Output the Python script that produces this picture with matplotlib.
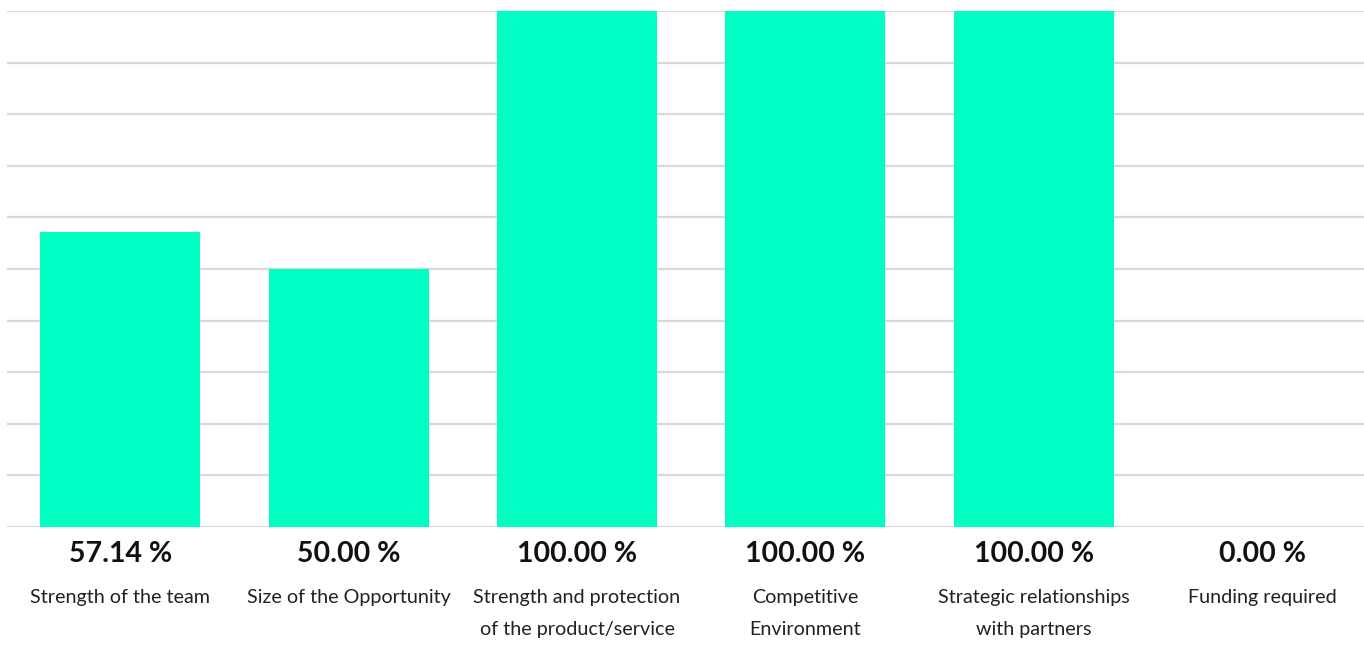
import matplotlib
matplotlib.use("Agg")
import matplotlib.pyplot as plt

categories = [
    "Strength of the team",
    "Size of the Opportunity",
    "Strength and protection\nof the product/service",
    "Competitive\nEnvironment",
    "Strategic relationships\nwith partners",
    "Funding required",
]
values = [57.14, 50.00, 100.00, 100.00, 100.00, 0.00]
value_labels = ["57.14 %", "50.00 %", "100.00 %", "100.00 %", "100.00 %", "0.00 %"]
grid_ticks = [0, 10, 20, 30, 40, 50, 60, 70, 80, 90, 100]

W, H = 1364, 661
fig = plt.figure(figsize=(W / 100, H / 100), dpi=100)
fig.patch.set_facecolor("white")

ax_left_px, ax_right_px = 7, 1364
ax_top_px, ax_bot_px = 11, 527
ax = fig.add_axes([ax_left_px / W, (H - ax_bot_px) / H,
                   (ax_right_px - ax_left_px) / W, (ax_bot_px - ax_top_px) / H])

step = 228.4
x0 = 6.0
xmin = -0.5 + (ax_left_px - x0) / step
xmax = -0.5 + (ax_right_px - x0) / step

x = list(range(len(categories)))
ax.bar(x, values, width=0.70, color="#00FFC3", zorder=2, linewidth=0)
for t in grid_ticks:
    ax.axhline(t, color="#d9d9d9", linewidth=1.6, zorder=1)

ax.set_xlim(xmin, xmax)
ax.set_ylim(0, 100)
ax.axis("off")

font = "Lato"
for i, (lab, vl) in enumerate(zip(categories, value_labels)):
    ax.annotate(vl, xy=(i, 0), xytext=(0, -27), textcoords="offset pixels",
                ha="center", va="center", fontsize=20.5, fontweight="bold",
                color="#111111", family=font, annotation_clip=False)
    for k, line in enumerate(lab.split("\n")):
        ax.annotate(line, xy=(i, 0), xytext=(0, -71 - 31.5 * k),
                    textcoords="offset pixels", ha="center", va="center",
                    fontsize=14.2, color="#222222", family=font,
                    annotation_clip=False)

fig.savefig("out.png", dpi=100, facecolor="white")
